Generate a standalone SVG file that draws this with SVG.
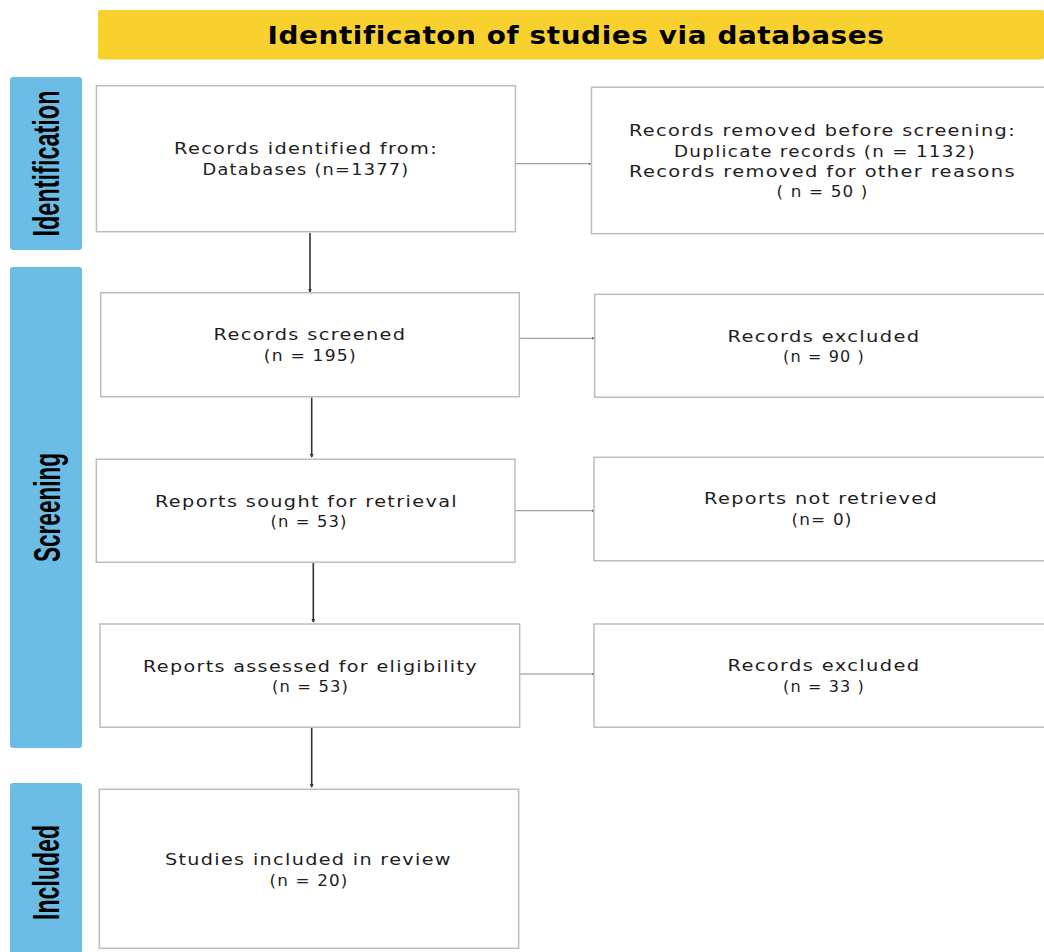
<svg xmlns="http://www.w3.org/2000/svg" width="1044" height="952" viewBox="0 0 1044 952">
<style>
.box{fill:#ffffff;stroke:#bdbdbd;stroke-width:1.5}
.bar{fill:#6cbde6}
.t{font-family:"DejaVu Sans",sans-serif;font-size:15.8px;letter-spacing:1.1px;fill:#1e1e1e;text-anchor:middle}
.side{font-family:"Liberation Sans",Arial,sans-serif;font-weight:bold;font-size:36px;fill:#000;text-anchor:middle}
.v{stroke:#333;stroke-width:1.6;fill:none}
.h{stroke:#8a8a8a;stroke-width:1;fill:none}
</style>
<defs>
<marker id="ah" viewBox="0 0 6 6" refX="5" refY="3" markerWidth="4" markerHeight="4" markerUnits="userSpaceOnUse" orient="auto">
<path d="M0,0 L6,3 L0,6 Z" fill="#333"/>
</marker>
<marker id="ahs" viewBox="0 0 6 6" refX="5" refY="3" markerWidth="3" markerHeight="3" markerUnits="userSpaceOnUse" orient="auto">
<path d="M0,0 L6,3 L0,6 Z" fill="#666"/>
</marker>
</defs>
<rect width="1044" height="952" fill="#ffffff"/>
<g id="header">
<rect x="98" y="10" width="946" height="49.5" rx="2" fill="#f9d12f"/>
<text x="576" y="43.5" font-family="'DejaVu Sans',sans-serif" font-weight="bold" font-size="24" letter-spacing="0.5" text-anchor="middle" textLength="617" lengthAdjust="spacingAndGlyphs" fill="#000">Identificaton of studies via databases</text>
</g>
<g id="phase-identification">
<rect class="bar" x="10" y="77" width="72" height="173" rx="3"/>
<text class="side" transform="translate(59.3,163.5) rotate(-90)" textLength="146" lengthAdjust="spacingAndGlyphs">Identification</text>
</g>
<g id="phase-screening">
<rect class="bar" x="10" y="267" width="72" height="481" rx="3"/>
<text class="side" transform="translate(60,507.5) rotate(-90)" textLength="109" lengthAdjust="spacingAndGlyphs">Screening</text>
</g>
<g id="phase-included">
<rect class="bar" x="10" y="783" width="72" height="180" rx="3"/>
<text class="side" transform="translate(59,872.5) rotate(-90)" textLength="95" lengthAdjust="spacingAndGlyphs">Included</text>
</g>
<g id="connectors">
<line class="v" x1="310" y1="233" x2="310" y2="292" marker-end="url(#ah)"/>
<line class="v" x1="311.7" y1="397.5" x2="311.7" y2="457" marker-end="url(#ah)"/>
<line class="v" x1="313.3" y1="563" x2="313.3" y2="622" marker-end="url(#ah)"/>
<line class="v" x1="311.7" y1="728" x2="311.7" y2="787" marker-end="url(#ah)"/>
<line class="h" x1="515.5" y1="163.7" x2="591" y2="163.7" marker-end="url(#ahs)"/>
<line class="h" x1="519.3" y1="338.3" x2="594.5" y2="338.3" marker-end="url(#ahs)"/>
<line class="h" x1="515" y1="510.7" x2="594" y2="510.7" marker-end="url(#ahs)"/>
<line class="h" x1="519.7" y1="674" x2="594" y2="674" marker-end="url(#ahs)"/>
</g>
<g id="records-identified">
<rect class="box" x="96.4" y="85.7" width="419" height="146"/>
<text class="t" x="306" y="154" textLength="264" lengthAdjust="spacingAndGlyphs">Records identified from:</text>
<text class="t" x="306" y="175" textLength="207" lengthAdjust="spacingAndGlyphs">Databases (n=1377)</text>
</g>
<g id="records-removed">
<rect class="box" x="591.5" y="87.3" width="470" height="146.4"/>
<text class="t" x="822.5" y="136" textLength="387" lengthAdjust="spacingAndGlyphs">Records removed before screening:</text>
<text class="t" x="825" y="156.7" textLength="302" lengthAdjust="spacingAndGlyphs">Duplicate records (n = 1132)</text>
<text class="t" x="822.5" y="176.9" textLength="387" lengthAdjust="spacingAndGlyphs">Records removed for other reasons</text>
<text class="t" x="822.5" y="197.3" textLength="92" lengthAdjust="spacingAndGlyphs">( n = 50 )</text>
</g>
<g id="records-screened">
<rect class="box" x="100.7" y="292.7" width="418.6" height="104"/>
<text class="t" x="310" y="340" textLength="193" lengthAdjust="spacingAndGlyphs">Records screened</text>
<text class="t" x="310.3" y="360.7" textLength="93" lengthAdjust="spacingAndGlyphs">(n = 195)</text>
</g>
<g id="records-excluded-1">
<rect class="box" x="594.7" y="294.3" width="470" height="103"/>
<text class="t" x="824" y="341.7" textLength="193" lengthAdjust="spacingAndGlyphs">Records excluded</text>
<text class="t" x="824" y="362.3" textLength="82" lengthAdjust="spacingAndGlyphs">(n = 90 )</text>
</g>
<g id="reports-sought">
<rect class="box" x="96.3" y="459.2" width="418.7" height="103"/>
<text class="t" x="306.5" y="506.7" textLength="303" lengthAdjust="spacingAndGlyphs">Reports sought for retrieval</text>
<text class="t" x="309" y="526.7" textLength="77" lengthAdjust="spacingAndGlyphs">(n = 53)</text>
</g>
<g id="reports-not-retrieved">
<rect class="box" x="594" y="457.3" width="470" height="103.4"/>
<text class="t" x="821" y="504.3" textLength="234" lengthAdjust="spacingAndGlyphs">Reports not retrieved</text>
<text class="t" x="822" y="525" textLength="61" lengthAdjust="spacingAndGlyphs">(n= 0)</text>
</g>
<g id="reports-assessed">
<rect class="box" x="100" y="624" width="419.7" height="103.3"/>
<text class="t" x="310.5" y="671.7" textLength="335" lengthAdjust="spacingAndGlyphs">Reports assessed for eligibility</text>
<text class="t" x="310.5" y="692.3" textLength="77" lengthAdjust="spacingAndGlyphs">(n = 53)</text>
</g>
<g id="records-excluded-2">
<rect class="box" x="594" y="624" width="470" height="103.3"/>
<text class="t" x="824" y="671" textLength="193" lengthAdjust="spacingAndGlyphs">Records excluded</text>
<text class="t" x="824" y="691.7" textLength="82" lengthAdjust="spacingAndGlyphs">(n = 33 )</text>
</g>
<g id="studies-included">
<rect class="box" x="99.3" y="789.3" width="419.3" height="159"/>
<text class="t" x="308.4" y="865" textLength="287" lengthAdjust="spacingAndGlyphs">Studies included in review</text>
<text class="t" x="309" y="885.7" textLength="79" lengthAdjust="spacingAndGlyphs">(n = 20)</text>
</g>
</svg>
